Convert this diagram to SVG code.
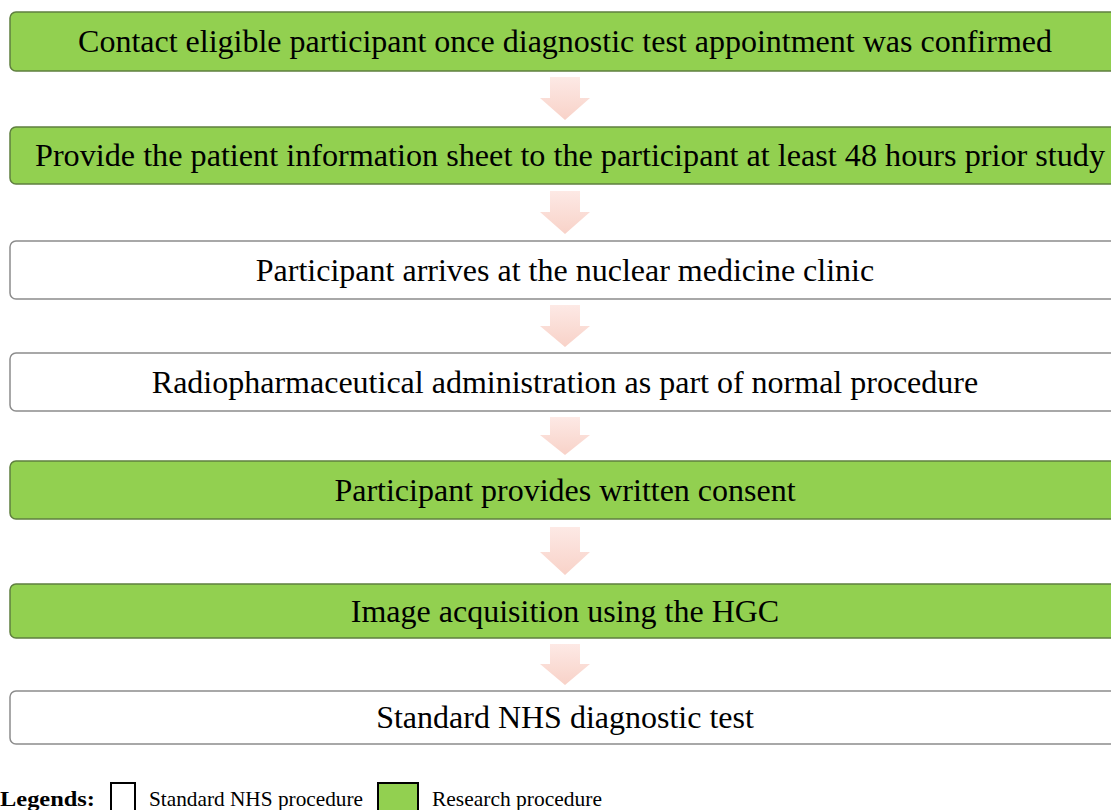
<svg xmlns="http://www.w3.org/2000/svg" width="1111" height="810" viewBox="0 0 1111 810">
<defs>
<linearGradient id="ag" x1="0" y1="0" x2="0" y2="1">
<stop offset="0" stop-color="#fde9e5"/>
<stop offset="1" stop-color="#f8d2c8"/>
</linearGradient>
<style>
.g{fill:#92d050;stroke:#5f7f3f;stroke-width:1.5}
.w{fill:#ffffff;stroke:#8c8c8c;stroke-width:1.5}
.t{font-family:"Liberation Serif","Times New Roman",serif;font-size:32px;fill:#000;text-anchor:middle}
.l{font-family:"Liberation Serif","Times New Roman",serif;font-size:22px;fill:#000}
.a{fill:url(#ag)}
.lb{stroke:#000;stroke-width:2}
</style>
</defs>
<g id="connectors">
<path class="a" d="M550,77 H580 V98 H590 L565,120 L540,98 H550 Z"/>
<path class="a" d="M550,191 H580 V212 H590 L565,234 L540,212 H550 Z"/>
<path class="a" d="M550,305 H580 V326 H590 L565,347 L540,326 H550 Z"/>
<path class="a" d="M550,417 H580 V435 H590 L565,455 L540,435 H550 Z"/>
<path class="a" d="M550,527 H580 V552 H590 L565,575 L540,552 H550 Z"/>
<path class="a" d="M550,644 H580 V664 H590 L565,685 L540,664 H550 Z"/>
</g>
<g id="n1"><rect class="g" x="10" y="12" width="1120" height="59" rx="6"/><text class="t" x="565" y="52">Contact eligible participant once diagnostic test appointment was confirmed</text></g>
<g id="n2"><rect class="g" x="10" y="127" width="1120" height="57" rx="6"/><text class="t" x="570" y="166" textLength="1070" lengthAdjust="spacingAndGlyphs">Provide the patient information sheet to the participant at least 48 hours prior study</text></g>
<g id="n3"><rect class="w" x="10" y="241" width="1120" height="58" rx="6"/><text class="t" x="565" y="281">Participant arrives at the nuclear medicine clinic</text></g>
<g id="n4"><rect class="w" x="10" y="353" width="1120" height="58" rx="6"/><text class="t" x="565" y="393">Radiopharmaceutical administration as part of normal procedure</text></g>
<g id="n5"><rect class="g" x="10" y="461" width="1120" height="58" rx="6"/><text class="t" x="565" y="501">Participant provides written consent</text></g>
<g id="n6"><rect class="g" x="10" y="584" width="1120" height="54" rx="6"/><text class="t" x="565" y="622">Image acquisition using the HGC</text></g>
<g id="n7"><rect class="w" x="10" y="691" width="1120" height="53" rx="6"/><text class="t" x="565" y="728">Standard NHS diagnostic test</text></g>
<g id="legend">
<text class="l" x="0" y="806" font-weight="bold" textLength="95" lengthAdjust="spacingAndGlyphs">Legends:</text>
<rect class="lb" x="111" y="783" width="24" height="30" fill="#ffffff"/>
<text class="l" x="149" y="806" textLength="214" lengthAdjust="spacingAndGlyphs">Standard NHS procedure</text>
<rect class="lb" x="378" y="783" width="40" height="30" fill="#92d050"/>
<text class="l" x="432" y="806" textLength="170" lengthAdjust="spacingAndGlyphs">Research procedure</text>
</g>
</svg>
